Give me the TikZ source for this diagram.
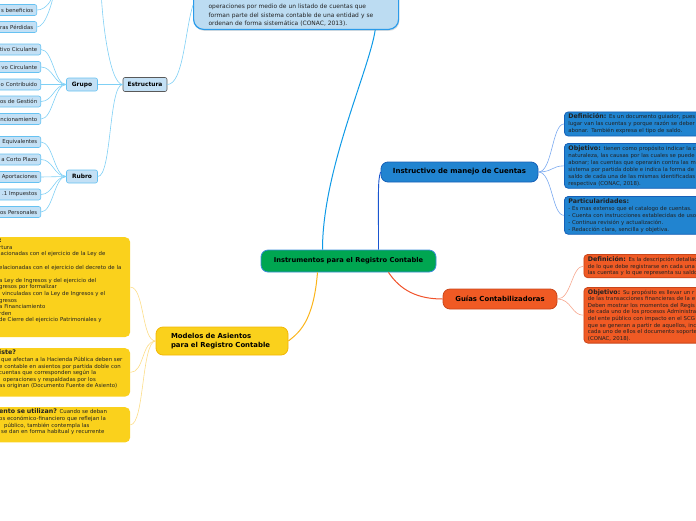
\documentclass[tikz,border=0pt]{standalone}
\usepackage{fontspec}
\setmainfont{DejaVu Sans}
\usetikzlibrary{shadows}
\definecolor{cgreen}{HTML}{00A651}
\definecolor{cgreenb}{HTML}{3C8DDB}
\definecolor{cblue}{HTML}{2184D0}
\definecolor{cblueb}{HTML}{1660B8}
\definecolor{corange}{HTML}{F05A24}
\definecolor{corangeb}{HTML}{C9461B}
\definecolor{cyellow}{HTML}{FAD11C}
\definecolor{cyellowb}{HTML}{F2B705}
\definecolor{clb}{HTML}{C3E0F5}
\definecolor{clbb}{HTML}{66C2F2}
\definecolor{ctopf}{HTML}{BCDCF2}
\definecolor{ctopb}{HTML}{2A9BEA}
\definecolor{ltop}{HTML}{0F9AE6}
\definecolor{lins}{HTML}{1A56D0}
\definecolor{lmod}{HTML}{FBB41A}
\definecolor{lgui}{HTML}{F0522A}
\definecolor{llb}{HTML}{7FD0F5}
\definecolor{linsc}{HTML}{7AA9F0}
\definecolor{lguic}{HTML}{F7A890}
\definecolor{lmodc}{HTML}{FCDD88}
\definecolor{ctext}{HTML}{222222}
\newcommand\myfsS{\fontsize{5.4}{6.6}\selectfont}
\newcommand\myfsR{\fontsize{5.4}{7}\selectfont}
\newcommand\myfsT{\fontsize{6.3}{7}\selectfont\bfseries}
\begin{document}
\begin{tikzpicture}[x=1pt,y=-1pt,
  mainnode/.style={rounded corners=7pt, line width=0.8pt, font=\bfseries\fontsize{6.7}{7}\selectfont, inner sep=0pt, text=black},
  lbnode/.style={draw=clbb, fill=clb, rounded corners=2pt, line width=0.6pt, font=\bfseries\fontsize{5.9}{6}\selectfont, inner sep=0pt},
  leaf/.style={draw=clbb, fill=clb, rounded corners=2pt, line width=0.6pt, font=\fontsize{5.4}{6}\selectfont, text=ctext, anchor=east, text width=52pt, align=right, inner xsep=3.5pt, inner ysep=0pt, minimum height=11pt},
  rbox/.style={draw=cblueb, fill=cblue, rounded corners=4pt, line width=0.8pt, anchor=north west, text width=150pt, align=left, inner xsep=4pt, inner ysep=2pt, font=\myfsR, text=ctext},
  obox/.style={draw=corangeb, fill=corange, rounded corners=4pt, line width=0.8pt, anchor=north west, text width=150pt, align=left, inner xsep=4pt, inner ysep=2pt, font=\myfsS, text=ctext},
  ybox/.style={fill=cyellow, rounded corners=5pt, anchor=north west, text width=126pt, align=left, inner xsep=5pt, inner ysep=2pt, font=\myfsS, text=ctext},
  cl/.style={line width=0.6pt},
]
\useasboundingbox (0,0) rectangle (696,520);
\clip (0,0) rectangle (696,520);

% central
\node[mainnode, fill=cgreen, draw=cgreenb, minimum width=175pt, minimum height=22pt] (c) at (348.5,261) {Instrumentos para el Registro Contable};

% top box
\node[draw=ctopb, fill=ctopf, line width=1.2pt, rounded corners=10pt, anchor=south west, text width=175pt, inner xsep=15pt, inner ysep=3pt, align=left, font=\fontsize{5.95}{8.5}\selectfont, text=ctext, drop shadow={opacity=0.25, shadow xshift=0.8pt, shadow yshift=-1.5pt}] (t) at (193,30) {\mbox{}\\ \mbox{}\\ operaciones por medio de un listado de cuentas que\\ forman parte del sistema contable de una entidad y se\\ ordenan de forma sistemática (CONAC, 2013).};

% Estructura branch
\node[lbnode, draw=gray!70!black, minimum width=44pt, minimum height=14pt] (e) at (145,84.5) {Estructura};
\node[lbnode, minimum width=31pt, minimum height=13pt] (gr) at (82,84.5) {Grupo};
\node[lbnode, minimum width=31pt, minimum height=13pt] (ru) at (82,176.5) {Rubro};
\coordinate (up1) at (101,-15);
\coordinate (up2) at (55,-12);

\node[leaf] (tl1) at (37,10) {s beneficios};
\node[leaf] (tl2) at (37,27) {ras Pérdidas};

\node[leaf] (g1) at (41,49.5) {tivo Ciculante};
\node[leaf] (g2) at (41,67) {vo Circulante};
\node[leaf] (g3) at (41,84.5) {o Contribuido};
\node[leaf] (g4) at (41,101.5) {os de Gestión};
\node[leaf] (g5) at (41,119) {ncionamiento};

\node[leaf] (r1) at (41,142) {Equivalentes};
\node[leaf] (r2) at (41,159.5) {a Corto Plazo};
\node[leaf] (r3) at (41,177) {Aportaciones};
\node[leaf] (r4) at (41,194.5) {.1 Impuestos};
\node[leaf] (r5) at (41,212) {os Personales};

% Instructivo
\node[mainnode, fill=cblue, draw=cblueb, minimum width=157pt, minimum height=20pt, font=\bfseries\fontsize{7}{7}\selectfont] (ins) at (459.5,172) {Instructivo de manejo de Cuentas};
\node[rbox] (d1) at (564,111.5) {{\myfsT Definición:} Es un documento guiador, pues\\ lugar van las cuentas y porque razón se deber\\ abonar. También expresa el tipo de saldo.};
\node[rbox] (d2) at (564,143) {{\myfsT Objetivo:} tienen como propósito indicar la c\\ naturaleza, las causas por las cuales se puede\\ abonar; las cuentas que operarán contra las m\\ sistema por partida doble e indica la forma de\\ saldo de cada una de las mismas identificadas\\ respectiva (CONAC, 2018).};
\node[rbox] (d3) at (564,196) {{\myfsT Particularidades:}\\ - Es mas extenso que el catalogo de cuentas.\\ - Cuenta con instrucciones establecidas de uso\\ - Continua revisión y actualización.\\ - Redacción clara, sencilla y objetiva.};

% Guias
\node[mainnode, fill=corange, draw=corangeb, minimum width=114pt, minimum height=20pt, font=\bfseries\fontsize{6.9}{7}\selectfont] (gu) at (500,299) {Guías Contabilizadoras};
\node[obox] (o1) at (583.5,254) {{\myfsT Definición:} Es la descripción detallad\\ de lo que debe registrarse en cada una\\ las cuentas y lo que representa su saldo};
\node[obox] (o2) at (583.5,287) {{\myfsT Objetivo:} Su propósito es llevar un r\\ de las transacciones financieras de la e\\ Deben mostrar los momentos del Regis\\ de cada uno de los procesos Administra\\ del ente público con impacto en el SCG\\ que se generan a partir de aquellos, inc\\ cada uno de ellos el documento soporte\\ (CONAC, 2018).};

% Modelos
\node[mainnode, fill=cyellow, draw=cyellowb, text width=102pt, inner xsep=15pt, align=left, minimum height=28pt, font=\bfseries\fontsize{6.9}{9}\selectfont] (m) at (222,341) {Modelos de Asientos\\ para el Registro Contable};
\node[ybox] (y1) at (-6,237) {{\myfsT :}\\ rtura\\ lacionadas con el ejercicio de la Ley de\\ \mbox{}\\ elacionadas con el ejercicio del decreto de la\\ \mbox{}\\ a Ley de Ingresos y del ejercicio del\\ gresos por formalizar\\ \hspace*{3pt}vinculadas con la Ley de Ingresos y el\\ gresos\\ a Financiamiento\\ rden\\ de Cierre del ejercicio Patrimoniales y\\ \mbox{}\\ \mbox{}};
\node[ybox] (y2) at (-6,348) {{\myfsT iste?}\\ \hspace*{2pt}que afectan a la Hacienda Pública deben ser\\ e contable en asientos por partida doble con\\ cuentas que corresponden según la\\ \hspace*{4pt}operaciones y respaldadas por los\\ as originan (Documento Fuente de Asiento)\\ \mbox{}};
\node[ybox] (y3) at (-6,407) {{\myfsT ento se utilizan?} Cuando se deban\\ os económico-financiero que reflejan la\\ \hspace*{5pt}público, también contempla las\\ \hspace*{2pt}se dan en forma habitual y recurrente\\ \mbox{}};

% main connectors
\draw[ltop, line width=1pt] ([xshift=-26pt]c.north) .. controls +(0,-80) and +(-6,40) .. ([xshift=-24pt]t.south east);
\draw[lins, line width=0.9pt] ([xshift=30pt]c.north) .. controls +(0,-55) and +(-3,8) .. (ins.west);
\draw[lgui, line width=1pt] ([xshift=40pt]c.south) .. controls +(12,18) and +(-25,0) .. (gu.west);
\draw[lmod, line width=1pt] ([xshift=-31pt]c.south) .. controls +(-4,50) and +(10,-8) .. (m.east);

% Estructura connectors
\draw[llb, cl] (e.east) .. controls +(16,0) and +(-8,25) .. ([yshift=25pt]t.south west);
\draw[llb, cl] (e.west) -- (gr.east);
\draw[llb, cl] (e.west) .. controls +(-14,0) and +(14,0) .. (ru.east);
\draw[llb, cl] (e.west) .. controls +(-14,0) and +(0,25) .. (up1);
\foreach \n in {tl1,tl2} \draw[llb, cl] (\n.east) .. controls +(9,0) and +(-2,12) .. (up2);
\foreach \n in {g1,g2,g3,g4,g5} \draw[llb, cl] (gr.west) .. controls +(-12,0) and +(12,0) .. (\n.east);
\foreach \n in {r1,r2,r3,r4,r5} \draw[llb, cl] (ru.west) .. controls +(-12,0) and +(12,0) .. (\n.east);

% Instructivo connectors
\foreach \n in {d1,d2,d3} \draw[linsc, cl] (ins.east) .. controls +(14,0) and +(-12,0) .. (\n.west);
% Guias connectors
\foreach \n in {o1,o2} \draw[lguic, cl] (gu.east) .. controls +(14,0) and +(-12,0) .. (\n.west);
% Modelos connectors
\foreach \n in {y1,y2,y3} \draw[lmodc, cl] (m.west) .. controls +(-14,0) and +(14,0) .. (\n.east);
\end{tikzpicture}
\end{document}
